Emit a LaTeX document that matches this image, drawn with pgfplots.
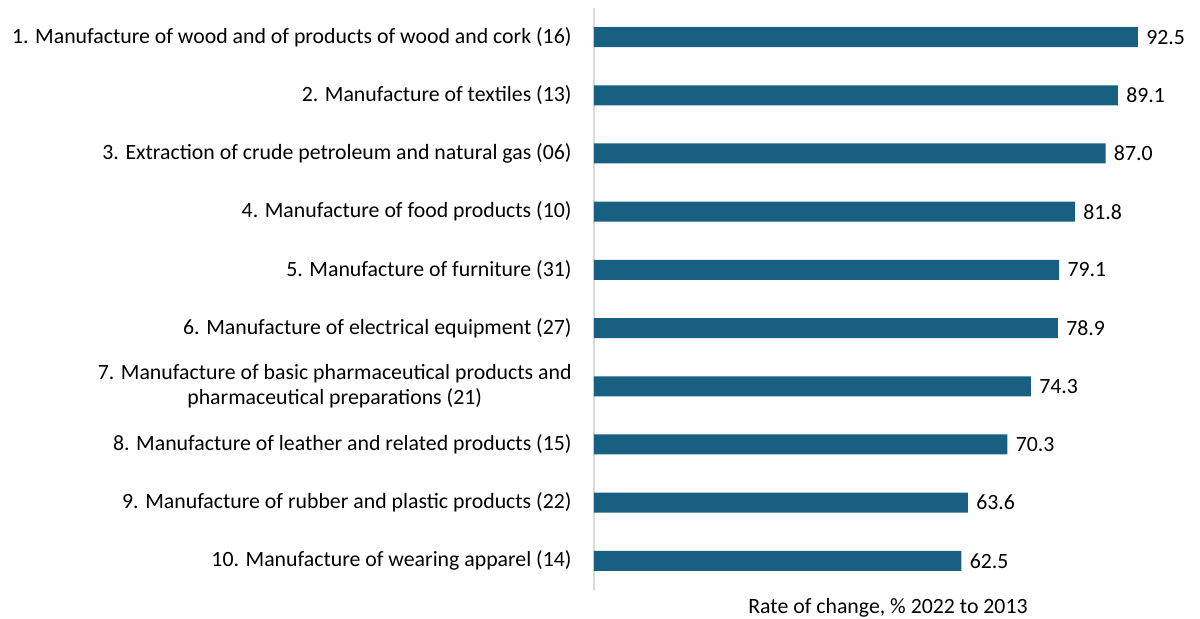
\documentclass[border=0pt]{standalone}
\usepackage{pgfplots}
\pgfplotsset{compat=1.18}
\usepackage{fontspec}
\setmainfont{Carlito}
\definecolor{barblue}{RGB}{24,96,130}
\newcommand\chartfont{\fontsize{10.9pt}{12.4pt}\selectfont}
\begin{document}
\chartfont
\begin{tikzpicture}
\useasboundingbox (-297pt,-14.5pt) rectangle (303pt,295pt);
\begin{axis}[
  at={(0,0)}, anchor=south west,
  scale only axis, width=294pt, height=291pt,
  xmin=0, xmax=100,
  ymin=0.5, ymax=10.5, y dir=reverse,
  xbar, bar width=10pt,
  axis x line=none,
  axis y line=left,
  y axis line style={draw=gray!30, line width=0.7pt, -},
  ytick={1,...,10},
  major tick length=0pt,
  yticklabels={
    {1. Manufacture of wood and of products of wood and cork (16)},
    {2. Manufacture of textiles (13)},
    {3. Extraction of crude petroleum and natural gas (06)},
    {4. Manufacture of food products (10)},
    {5. Manufacture of furniture (31)},
    {6. Manufacture of electrical equipment (27)},
    {7. Manufacture of basic pharmaceutical products and\\pharmaceutical preparations (21)},
    {8. Manufacture of leather and related products (15)},
    {9. Manufacture of rubber and plastic products (22)},
    {10. Manufacture of wearing apparel (14)}
  },
  yticklabel style={align=center, inner sep=0pt, xshift=-11pt, font=\chartfont},
  nodes near coords,
  nodes near coords style={anchor=west, inner sep=0pt, xshift=4pt, font=\chartfont, /pgf/number format/.cd, fixed, fixed zerofill, precision=1, assume math mode=true},
  clip=false,
]
\addplot[fill=barblue, draw=none] coordinates {
 (92.5,1) (89.1,2) (87.0,3) (81.8,4) (79.1,5) (78.9,6) (74.3,7) (70.3,8) (63.6,9) (62.5,10)
};
\node[anchor=north, inner sep=0pt] at (rel axis cs:0.5,0) [yshift=-4pt] {Rate of change, \% 2022 to 2013};
\end{axis}
\end{tikzpicture}
\end{document}
